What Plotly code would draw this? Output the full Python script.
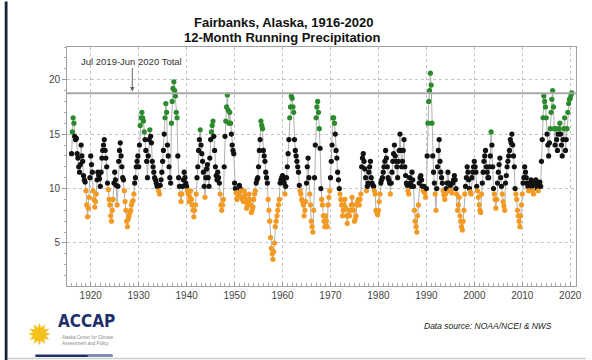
import pandas as pd
import plotly.graph_objects as go

# ---------------- data (12-month running precipitation, inches; bimonthly readings, 6 per year) ----------------
precip_1916_1939 = [
    13.2, 15.2, 16.5, 16.0, 14.8, 14.5,   14.6, 13.2, 12.8, 12.0, 11.5, 12.2,
    14.0, 13.0, 12.5, 11.2, 10.8, 10.6,   9.8, 8.5, 7.4, 8.2, 9.2, 11.0,
    13.0, 12.2, 11.5, 9.8, 9.0, 8.3,      8.8, 9.5, 10.8, 11.5, 11.2, 10.9,
    10.2, 11.5, 12.8, 13.5, 14.0, 14.5,   13.5, 12.8, 12.0, 10.5, 9.9, 9.0,
    8.5, 7.5, 7.0, 8.0, 9.0, 10.5,        11.5, 10.8, 10.3, 8.5, 10.2, 12.5,
    13.5, 14.2, 13.0, 12.0, 11.0, 10.8,   9.8, 8.8, 8.0, 7.0, 6.5, 7.2,
    7.5, 7.8, 8.0, 8.5, 8.8, 8.9,         9.5, 10.5, 11.0, 12.0, 12.5, 13.0,
    12.0, 14.0, 15.8, 16.5, 17.0, 16.5,   16.2, 15.2, 14.5, 13.5, 12.5, 11.0,
    13.0, 14.5, 15.4, 14.8, 14.2, 12.5,   12.0, 11.5, 11.0, 10.8, 10.5, 10.2,
    10.2, 9.8, 9.5, 10.3, 10.8, 11.5,     12.5, 13.5, 15.0, 16.5, 17.8, 17.0,
    14.0, 13.0, 12.0, 11.0, 10.5, 16.0,   18.0, 19.2, 19.8, 19.0, 18.5, 17.0,
    16.5, 13.0, 11.0, 10.2, 9.5, 8.8,     9.5, 10.2, 10.8, 11.5, 11.0, 10.5,
]
precip_1940_1969 = [
    10.2, 9.8, 9.5, 8.8, 9.2, 9.8,        9.0, 8.5, 8.0, 7.4, 8.0, 8.5,
    9.5, 11.0, 12.0, 13.5, 14.5, 15.4,    14.0, 13.2, 12.5, 11.5, 10.2, 9.2,
    11.0, 11.8, 12.2, 11.0, 10.2, 12.8,   14.5, 15.2, 15.8, 16.2, 14.8, 13.5,
    12.0, 11.2, 10.8, 11.5, 11.0, 10.5,   9.5, 8.5, 8.0, 8.5, 9.0, 12.0,
    14.8, 16.2, 17.5, 18.6, 17.2, 16.0,   17.0, 16.0, 15.0, 14.0, 13.5, 13.2,
    10.5, 10.0, 9.6, 9.0, 9.2, 9.5,       10.3, 10.0, 9.8, 9.2, 9.0, 8.8,
    9.8, 9.4, 9.0, 8.2, 8.5, 8.8,         9.5, 9.0, 8.5, 7.8, 8.0, 8.3,
    9.0, 9.5, 9.8, 10.5, 10.8, 11.0,      12.0, 13.5, 14.5, 16.2, 15.8, 15.5,
    13.5, 13.0, 12.5, 11.5, 11.0, 10.5,   9.0, 8.0, 7.0, 5.5, 4.5, 4.0,
    3.5, 4.2, 5.0, 6.5, 7.0, 7.5,         8.0, 8.5, 9.0, 10.5, 10.8, 11.0,
    11.2, 10.8, 10.5, 9.5, 10.2, 11.0,    12.0, 13.2, 14.5, 16.5, 17.5, 18.5,
    18.3, 17.5, 17.0, 14.5, 13.5, 13.0,   12.5, 12.0, 11.5, 10.3, 9.8, 9.5,
    9.0, 8.8, 8.5, 7.5, 8.0, 8.8,         10.5, 12.0, 12.8, 11.0, 9.5, 8.5,
    7.0, 6.5, 6.0, 8.0, 11.0, 14.0,       16.5, 17.5, 18.0, 17.0, 15.5, 13.7,
    10.0, 9.0, 8.5, 7.5, 7.0, 6.5,        7.5, 7.0, 6.5, 8.5, 9.2, 9.8,
]
precip_1970_1999 = [
    11.0, 12.5, 14.0, 16.5, 16.5, 16.0,   15.0, 13.5, 12.8, 11.5, 10.8, 10.0,
    9.5, 9.0, 8.5, 7.5, 8.0, 8.5,         9.0, 8.2, 7.5, 6.8, 7.5, 8.0,
    7.5, 8.0, 8.5, 9.2, 8.5, 8.0,         7.0, 7.2, 7.5, 8.5, 8.8, 9.0,
    8.5, 9.0, 9.5, 12.0, 12.8, 13.2,      12.5, 11.8, 11.0, 9.8, 10.2, 10.5,
    11.5, 12.0, 12.5, 11.0, 10.5, 10.3,   10.2, 9.8, 9.5, 8.0, 7.8, 7.6,
    8.0, 8.8, 9.5, 10.5, 10.8, 11.0,      11.5, 12.0, 12.5, 13.5, 12.8, 12.0,
    11.0, 10.8, 10.5, 9.5, 10.5, 11.5,    12.5, 13.2, 14.0, 13.0, 12.5, 12.0,
    11.0, 12.5, 13.5, 15.0, 13.5, 12.0,   12.5, 13.5, 14.5, 12.0, 11.2, 10.5,
    10.3, 9.8, 9.5, 11.0, 10.5, 10.2,     11.5, 10.8, 10.2, 8.0, 7.0, 6.5,
    6.0, 7.5, 8.5, 10.5, 11.0, 11.2,      10.8, 10.2, 9.8, 10.2, 9.6, 9.2,
    10.0, 13.0, 16.0, 18.0, 19.0, 20.6,   19.5, 16.0, 13.0, 11.5, 10.5, 9.5,
    8.0, 10.0, 12.0, 13.5, 14.5, 12.5,    11.5, 11.0, 10.5, 9.8, 9.4, 9.0,
    9.5, 10.0, 10.5, 11.5, 10.5, 9.8,     10.3, 9.8, 9.6, 10.5, 10.8, 11.2,
    10.8, 10.0, 9.5, 8.0, 8.5, 9.2,       7.5, 7.0, 6.5, 6.2, 7.0, 8.0,
    9.5, 10.2, 11.0, 12.0, 11.5, 10.8,    10.0, 9.7, 9.5, 11.0, 11.5, 12.0,
]
precip_2000_2020 = [
    12.5, 12.0, 11.5, 10.2, 9.8, 9.2,     8.5, 8.0, 7.8, 9.5, 10.5, 11.5,
    12.5, 13.0, 13.5, 12.0, 11.5, 11.0,   11.0, 12.0, 13.0, 15.2, 14.0, 12.0,
    10.0, 9.5, 9.0, 8.2, 9.0, 10.5,       11.5, 12.2, 12.8, 11.0, 10.2, 9.5,
    8.8, 8.4, 8.0, 10.5, 11.2, 12.0,      12.5, 13.0, 13.5, 14.5, 14.2, 15.0,
    14.0, 13.0, 12.0, 10.0, 9.5, 9.0,     8.0, 7.5, 7.0, 6.5, 7.5, 8.5,
    9.5, 10.5, 11.0, 12.0, 11.5, 11.0,    10.5, 10.2, 9.8, 10.3, 10.5, 10.8,
    10.2, 9.8, 9.5, 10.5, 10.6, 10.8,     10.2, 10.0, 9.8, 10.4, 10.6, 10.2,
    12.5, 14.5, 16.5, 18.5, 18.0, 17.5,   16.5, 15.0, 14.0, 13.0, 14.2, 15.5,
    17.0, 18.2, 19.0, 17.5, 15.5, 14.0,   15.5, 14.5, 13.5, 15.0, 15.5, 16.0,
    15.0, 14.0, 13.0, 14.5, 15.5, 16.5,   13.5, 14.5, 15.5, 17.0, 17.8, 18.2,
    18.3, 18.6, 18.8,
]
latest_total = 18.76          # Jul 2019-Jun 2020 total
wet_threshold = 15.0
dry_threshold = 10.0
x_tick_years = ["1920", "1930", "1940", "1950", "1960", "1970", "1980", "1990", "2000", "2010", "2020"]
y_tick_values = [5, 10, 15, 20]

precip = precip_1916_1939 + precip_1940_1969 + precip_1970_1999 + precip_2000_2020
dates = pd.date_range("1916-01-01", periods=len(precip), freq="2MS")

GREEN, BLACK, ORANGE = "#2b8a2b", "#111111", "#f29a22"
colors = [GREEN if v > wet_threshold else (ORANGE if v < dry_threshold else BLACK) for v in precip]

# ---------------- layout geometry (pixels) ----------------
W, H = 592, 360
L, R, T, B = 67, 10, 47, 74
PW, PH = W - L - R, H - T - B


def px(xp):
    return (xp - L) / PW


def py(yp):
    return (H - B - yp) / PH


fig = go.Figure()
fig.add_trace(go.Scatter(
    x=dates, y=precip, mode="lines+markers",
    line=dict(color="#b0b0b0", width=1),
    marker=dict(color=colors, size=5.2, line=dict(width=0)),
    hoverinfo="x+y", showlegend=False,
))

fig.add_hline(y=latest_total, line=dict(color="#a8a8a8", width=2))

axis_font = dict(family="Liberation Sans, Arial, sans-serif", size=10, color="#444")
fig.update_xaxes(
    type="date", range=["1915-01-20", "2021-03-15"],
    tickvals=[f"{y}-01-01" for y in x_tick_years], ticktext=x_tick_years,
    ticks="inside", ticklen=4, tickcolor="#999",
    minor=dict(dtick="M12", tick0="1920-01-01", ticks="inside", ticklen=3, tickcolor="#aaa", showgrid=False),
    showgrid=True, gridcolor="#c4c4c4", griddash="dot", gridwidth=1,
    showline=True, linecolor="#a0a0a0", linewidth=1, mirror=True,
    zeroline=False, tickfont=axis_font,
)
fig.update_yaxes(
    range=[1.05, 23.0], tickvals=y_tick_values,
    ticks="outside", ticklen=4, tickcolor="#999",
    minor=dict(dtick=1, ticks="outside", ticklen=2, tickcolor="#aaa", showgrid=False),
    showgrid=True, gridcolor="#c4c4c4", griddash="dot", gridwidth=1,
    showline=True, linecolor="#a0a0a0", linewidth=1, mirror=True,
    zeroline=False, tickfont=axis_font,
)

ann = []
title_font = dict(family="Liberation Sans, Arial, sans-serif", size=13, color="#111")
ann.append(dict(xref="paper", yref="paper", x=px(286), y=py(22.5), text="<b>Fairbanks, Alaska, 1916-2020</b>",
                showarrow=False, font=title_font, xanchor="center", yanchor="middle"))
ann.append(dict(xref="paper", yref="paper", x=px(285), y=py(37.5), text="<b>12-Month Running Precipitation</b>",
                showarrow=False, font=title_font, xanchor="center", yanchor="middle"))
# latest total annotation
ann.append(dict(xref="paper", yref="paper", x=px(132.5), y=py(61), text="Jul 2019-Jun 2020 Total",
                showarrow=False, font=dict(family="Liberation Sans, Arial, sans-serif", size=9.5, color="#333"),
                xanchor="center", yanchor="middle"))
ann.append(dict(xref="x", yref="y", x="1928-09-01", y=latest_total + 0.15, text="", showarrow=True,
                ax=0, ay=-25, arrowhead=2, arrowsize=0.9, arrowwidth=1, arrowcolor="#666"))
# data source
ann.append(dict(xref="paper", yref="paper", x=px(493), y=py(326), text="<i>Data source: NOAA/NCEI &amp; NWS</i>",
                showarrow=False, font=dict(family="Liberation Sans, Arial, sans-serif", size=8.5, color="#222"),
                xanchor="center", yanchor="middle"))
# ACCAP logo (text approximation)
ann.append(dict(xref="paper", yref="paper", x=px(39), y=py(334), text="✹",
                showarrow=False, font=dict(family="DejaVu Sans", size=30, color="#f5c21b"),
                xanchor="center", yanchor="middle"))
ann.append(dict(xref="paper", yref="paper", x=px(87), y=py(321), text="<b>ACCAP</b>",
                showarrow=False, font=dict(family="Liberation Sans Narrow, DejaVu Sans Condensed, Arial", size=17, color="#1e2f6b"),
                xanchor="center", yanchor="middle"))
ann.append(dict(xref="paper", yref="paper", x=px(60), y=py(340), text="Alaska Center for Climate<br>Assessment and Policy",
                showarrow=False, align="left", font=dict(family="Liberation Sans, Arial", size=4.5, color="#8a8a8a"),
                xanchor="left", yanchor="middle"))

shapes = [
    # top and left frame border
    dict(type="rect", xref="paper", yref="paper", x0=px(4), x1=px(592), y0=py(4.3), y1=py(1.5),
         fillcolor="#1b1f3b", line=dict(width=0), layer="above"),
    dict(type="rect", xref="paper", yref="paper", x0=px(4), x1=px(6.8), y0=py(360), y1=py(1.5),
         fillcolor="#1b1f3b", line=dict(width=0), layer="above"),
    # bottom light line
    dict(type="line", xref="paper", yref="paper", x0=px(7), x1=px(592), y0=py(358.5), y1=py(358.5),
         line=dict(color="#cfcfcf", width=1.5)),
    # logo bar
    dict(type="rect", xref="paper", yref="paper", x0=px(35), x1=px(113), y0=py(357), y1=py(354.5),
         fillcolor="#1e2f6b", line=dict(width=0)),
    dict(type="rect", xref="paper", yref="paper", x0=px(88), x1=px(113), y0=py(357), y1=py(354.5),
         fillcolor="#7f8fb5", line=dict(width=0)),
]

fig.update_layout(
    width=W, height=H, margin=dict(l=L, r=R, t=T, b=B),
    paper_bgcolor="white", plot_bgcolor="white",
    annotations=ann, shapes=shapes, showlegend=False,
    font=dict(family="Liberation Sans, Arial, sans-serif"),
)

fig.write_html("out.html", config={"displayModeBar": False},
               post_script="document.body.style.margin='0';document.body.style.overflow='hidden';")
